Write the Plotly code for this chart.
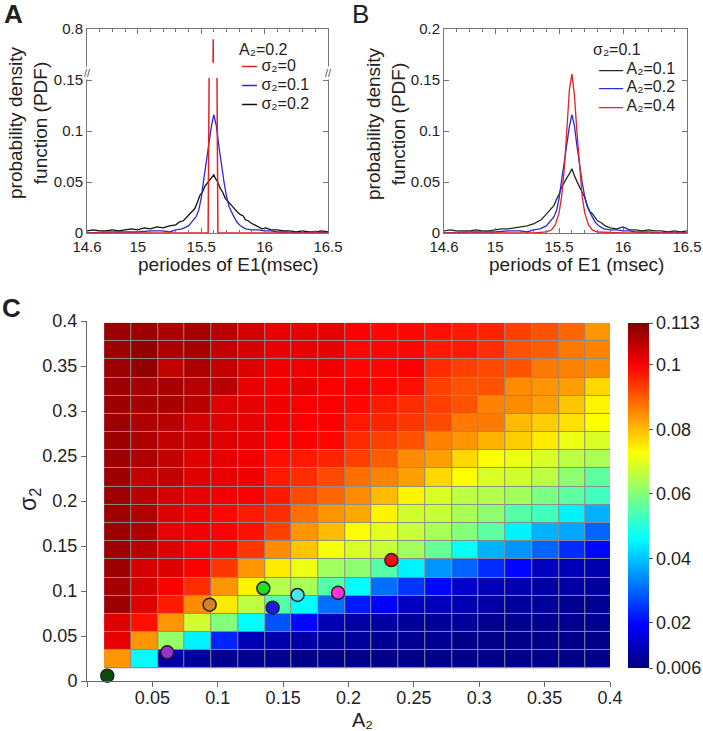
import plotly.graph_objects as go

FONT = "Arial, Liberation Sans, sans-serif"

# ---------------- Panel A data (A2 = 0.2) ----------------
# sigma2 = 0 : a single sharp peak (true height ~0.79, shown on a broken axis)
A_S0_X = [14.6, 15.555, 15.595, 15.632, 16.5]
A_S0_Y = [0.0, 0.0, 0.79, 0.0, 0.0]

# A2 = 0.2, sigma2 = 0.1 (same curve in panel A and panel B)
A02_S01_X = [14.6, 14.8, 15.0, 15.1, 15.2, 15.25, 15.3, 15.35, 15.4, 15.43, 15.46, 15.48,
             15.5, 15.52, 15.54, 15.56, 15.58, 15.6, 15.62, 15.64, 15.66, 15.68, 15.7,
             15.72, 15.75, 15.78, 15.81, 15.85, 15.9, 15.95, 16.0, 16.05, 16.1, 16.2,
             16.3, 16.4, 16.5]
A02_S01_Y = [0.0, 0.001, 0.001, 0.002, 0.002, 0.001, 0.003, 0.004, 0.007, 0.011, 0.016, 0.022,
             0.034, 0.052, 0.070, 0.088, 0.104, 0.116, 0.105, 0.085, 0.065, 0.050, 0.036,
             0.026, 0.018, 0.011, 0.007, 0.004, 0.003, 0.003, 0.002, 0.002, 0.001, 0.001,
             0.0, 0.001, 0.0]

# A2 = 0.2, sigma2 = 0.2
A_S02_X = [14.6, 14.65, 14.7, 14.75, 14.8, 14.85, 14.9, 14.95, 15.0, 15.05, 15.1, 15.15,
           15.2, 15.25, 15.3, 15.33, 15.36, 15.39, 15.42, 15.45, 15.47, 15.49, 15.51, 15.53,
           15.55, 15.57, 15.59, 15.6, 15.61, 15.63, 15.65, 15.67, 15.69, 15.71, 15.73, 15.75,
           15.77, 15.79, 15.81, 15.83, 15.85, 15.87, 15.89, 15.92, 15.95, 15.98, 16.01, 16.05,
           16.1, 16.15, 16.2, 16.25, 16.3, 16.35, 16.4, 16.45, 16.5]
A_S02_Y = [0.002, 0.003, 0.002, 0.002, 0.003, 0.002, 0.003, 0.004, 0.003, 0.005, 0.004, 0.006,
           0.005, 0.007, 0.008, 0.011, 0.012, 0.016, 0.019, 0.024, 0.030, 0.037, 0.040, 0.046,
           0.049, 0.052, 0.055, 0.057, 0.054, 0.050, 0.044, 0.040, 0.034, 0.031, 0.028, 0.026,
           0.022, 0.020, 0.018, 0.017, 0.013, 0.012, 0.010, 0.008, 0.006, 0.004, 0.005, 0.003,
           0.003, 0.002, 0.002, 0.001, 0.002, 0.001, 0.001, 0.002, 0.001]

# ---------------- Panel B data (sigma2 = 0.1) ----------------
B_A01_X = [14.6, 14.65, 14.7, 14.75, 14.8, 14.85, 14.9, 14.95, 15.0, 15.05, 15.1, 15.15,
           15.2, 15.25, 15.3, 15.33, 15.36, 15.39, 15.42, 15.44, 15.46, 15.48, 15.5, 15.52,
           15.54, 15.56, 15.58, 15.6, 15.62, 15.64, 15.66, 15.68, 15.7, 15.72, 15.74, 15.76,
           15.78, 15.8, 15.83, 15.86, 15.9, 15.95, 16.0, 16.05, 16.1, 16.15, 16.2, 16.25,
           16.3, 16.35, 16.4, 16.45, 16.5]
B_A01_Y = [0.002, 0.003, 0.002, 0.002, 0.002, 0.003, 0.002, 0.002, 0.003, 0.004, 0.004, 0.005,
           0.006, 0.007, 0.009, 0.011, 0.013, 0.017, 0.021, 0.024, 0.027, 0.033, 0.038, 0.045,
           0.050, 0.054, 0.058, 0.063, 0.056, 0.050, 0.045, 0.040, 0.035, 0.027, 0.021, 0.019,
           0.015, 0.012, 0.010, 0.007, 0.005, 0.004, 0.006, 0.003, 0.003, 0.002, 0.003, 0.002,
           0.002, 0.001, 0.002, 0.001, 0.002]

B_A04_X = [14.6, 15.0, 15.3, 15.4, 15.44, 15.47, 15.5, 15.52, 15.54, 15.56, 15.58, 15.6,
           15.62, 15.64, 15.66, 15.68, 15.7, 15.73, 15.76, 15.8, 16.0, 16.5]
B_A04_Y = [0.0, 0.0, 0.0, 0.001, 0.003, 0.008, 0.020, 0.036, 0.062, 0.100, 0.140, 0.156,
           0.135, 0.098, 0.062, 0.036, 0.020, 0.008, 0.003, 0.001, 0.0, 0.0]

# ---------------- Panel C data ----------------
A2_CENTERS = [0.0234, 0.0439, 0.0643, 0.0848, 0.1052, 0.1257, 0.1461, 0.1666, 0.1870, 0.2075,
              0.2279, 0.2484, 0.2688, 0.2893, 0.3097, 0.3302, 0.3506, 0.3711, 0.3915]
# listed top (large sigma2) to bottom
SIGMA2_CENTERS = [0.3878, 0.3676, 0.3474, 0.3272, 0.3070, 0.2868, 0.2666, 0.2464, 0.2262, 0.2060,
                  0.1858, 0.1656, 0.1454, 0.1252, 0.1050, 0.0848, 0.0646, 0.0444, 0.0242]
PEAK_PDF = [
    [0.110, 0.110, 0.108, 0.109, 0.107, 0.104, 0.102, 0.102, 0.102, 0.100, 0.099, 0.099, 0.098, 0.097, 0.096, 0.093, 0.091, 0.089, 0.084],
    [0.110, 0.111, 0.108, 0.109, 0.106, 0.104, 0.102, 0.102, 0.102, 0.099, 0.099, 0.099, 0.097, 0.097, 0.095, 0.091, 0.090, 0.087, 0.086],
    [0.110, 0.111, 0.106, 0.108, 0.106, 0.103, 0.101, 0.101, 0.101, 0.099, 0.099, 0.100, 0.095, 0.093, 0.092, 0.091, 0.087, 0.086, 0.085],
    [0.110, 0.109, 0.109, 0.107, 0.107, 0.102, 0.101, 0.102, 0.100, 0.100, 0.099, 0.098, 0.093, 0.091, 0.091, 0.085, 0.084, 0.083, 0.077],
    [0.110, 0.109, 0.109, 0.107, 0.103, 0.102, 0.101, 0.100, 0.100, 0.099, 0.097, 0.095, 0.093, 0.091, 0.086, 0.085, 0.083, 0.079, 0.074],
    [0.110, 0.108, 0.107, 0.104, 0.103, 0.102, 0.101, 0.100, 0.100, 0.097, 0.096, 0.094, 0.092, 0.087, 0.087, 0.080, 0.078, 0.076, 0.073],
    [0.110, 0.108, 0.106, 0.105, 0.103, 0.102, 0.100, 0.100, 0.099, 0.095, 0.093, 0.091, 0.086, 0.084, 0.081, 0.078, 0.075, 0.071, 0.069],
    [0.110, 0.108, 0.106, 0.103, 0.102, 0.101, 0.098, 0.097, 0.096, 0.093, 0.090, 0.085, 0.083, 0.077, 0.073, 0.071, 0.069, 0.066, 0.064],
    [0.110, 0.106, 0.106, 0.103, 0.102, 0.101, 0.097, 0.095, 0.092, 0.088, 0.086, 0.083, 0.077, 0.073, 0.069, 0.068, 0.066, 0.061, 0.056],
    [0.110, 0.107, 0.104, 0.102, 0.101, 0.100, 0.097, 0.092, 0.089, 0.085, 0.080, 0.074, 0.069, 0.066, 0.065, 0.063, 0.059, 0.056, 0.053],
    [0.110, 0.108, 0.103, 0.101, 0.099, 0.097, 0.095, 0.088, 0.084, 0.082, 0.074, 0.068, 0.067, 0.064, 0.061, 0.055, 0.053, 0.045, 0.038],
    [0.110, 0.108, 0.102, 0.101, 0.100, 0.098, 0.093, 0.084, 0.080, 0.073, 0.070, 0.067, 0.064, 0.060, 0.056, 0.045, 0.038, 0.037, 0.030],
    [0.110, 0.107, 0.103, 0.100, 0.099, 0.094, 0.085, 0.079, 0.072, 0.069, 0.067, 0.063, 0.057, 0.047, 0.038, 0.035, 0.030, 0.024, 0.020],
    [0.110, 0.104, 0.103, 0.100, 0.094, 0.084, 0.075, 0.071, 0.063, 0.061, 0.055, 0.045, 0.035, 0.030, 0.024, 0.020, 0.013, 0.012, 0.011],
    [0.109, 0.104, 0.100, 0.095, 0.084, 0.074, 0.065, 0.064, 0.055, 0.046, 0.031, 0.025, 0.020, 0.014, 0.012, 0.011, 0.010, 0.010, 0.009],
    [0.110, 0.103, 0.097, 0.085, 0.075, 0.066, 0.055, 0.046, 0.031, 0.022, 0.019, 0.013, 0.012, 0.011, 0.010, 0.009, 0.009, 0.008, 0.008],
    [0.103, 0.098, 0.084, 0.068, 0.060, 0.046, 0.028, 0.020, 0.012, 0.010, 0.010, 0.009, 0.009, 0.009, 0.008, 0.008, 0.008, 0.008, 0.008],
    [0.102, 0.084, 0.062, 0.045, 0.023, 0.012, 0.011, 0.010, 0.009, 0.009, 0.008, 0.008, 0.008, 0.007, 0.007, 0.007, 0.007, 0.007, 0.007],
    [0.084, 0.046, 0.010, 0.009, 0.008, 0.008, 0.008, 0.007, 0.007, 0.007, 0.007, 0.007, 0.007, 0.007, 0.007, 0.007, 0.007, 0.007, 0.007],
]
MARKER_A2 = [0.0155, 0.0614, 0.0938, 0.1349, 0.1420, 0.1610, 0.1920, 0.2328]
MARKER_S2 = [0.0059, 0.0319, 0.0848, 0.1030, 0.0815, 0.0956, 0.0980, 0.1344]
MARKER_COLORS = ["#0b4d0b", "#9a32cd", "#d2822a", "#22dd22", "#1a1ae6", "#45e6f0", "#ff33dd", "#ee1111"]

CB_TICKS = [0.006, 0.02, 0.04, 0.06, 0.08, 0.1, 0.113]
CB_TEXT = ["0.006", "0.02", "0.04", "0.06", "0.08", "0.1", "0.113"]

# MATLAB jet
JET = [[0.0, "rgb(0,0,128)"], [0.125, "rgb(0,0,255)"], [0.375, "rgb(0,255,255)"],
       [0.625, "rgb(255,255,0)"], [0.875, "rgb(255,0,0)"], [1.0, "rgb(128,0,0)"]]

# ---------- broken y-axis of panel A ----------
BREAK_LO = 0.152   # lower section shows 0 .. 0.152 directly
BREAK_HI = 0.767   # upper section shows 0.767 .. 0.8 shifted down
SHIFT = 0.6


def broken(xs, ys):
    """Split a polyline at the axis break; return a list of (x, y) pieces in display units."""
    pieces = []
    cur_x, cur_y = [], []
    for i in range(len(xs) - 1):
        x0, y0, x1, y1 = xs[i], ys[i], xs[i + 1], ys[i + 1]
        ts = [0.0, 1.0]
        for b in (BREAK_LO, BREAK_HI):
            if (y0 - b) * (y1 - b) < 0:
                ts.append((b - y0) / (y1 - y0))
        ts.sort()
        for a, c in zip(ts[:-1], ts[1:]):
            ym = y0 + (y1 - y0) * (a + c) / 2
            if BREAK_LO < ym < BREAK_HI:
                if cur_x:
                    pieces.append((cur_x, cur_y))
                cur_x, cur_y = [], []
                continue
            off = 0.0 if ym <= BREAK_LO else SHIFT   # zone decided by the sub-segment
            if not cur_x:
                cur_x.append(x0 + (x1 - x0) * a)
                cur_y.append(y0 + (y1 - y0) * a - off)
            cur_x.append(x0 + (x1 - x0) * c)
            cur_y.append(y0 + (y1 - y0) * c - off)
    if cur_x:
        pieces.append((cur_x, cur_y))
    return pieces


W, H = 703, 731


def px(v):
    return v / W


def py(v):
    return 1 - v / H


fig = go.Figure()

BLACK = "#111111"
BLUE = "#2a2ad6"
RED = "#e32222"
DKGREEN = "#1e2e1e"

# Panel A
fig.add_trace(go.Scatter(x=A_S02_X, y=A_S02_Y, mode="lines", line=dict(color=BLACK, width=1.3),
                         name="σ2=0.2", xaxis="x", yaxis="y"))
fig.add_trace(go.Scatter(x=A02_S01_X, y=A02_S01_Y, mode="lines", line=dict(color=BLUE, width=1.3),
                         name="σ2=0.1", xaxis="x", yaxis="y"))
for rx, ry in broken(A_S0_X, A_S0_Y):
    fig.add_trace(go.Scatter(x=rx, y=ry, mode="lines",
                             line=dict(color=RED, width=1.5, simplify=False),
                             name="σ2=0", xaxis="x", yaxis="y"))

# Panel B
fig.add_trace(go.Scatter(x=B_A01_X, y=B_A01_Y, mode="lines", line=dict(color=DKGREEN, width=1.3),
                         name="A2=0.1", xaxis="x2", yaxis="y2"))
fig.add_trace(go.Scatter(x=A02_S01_X, y=A02_S01_Y, mode="lines", line=dict(color=BLUE, width=1.3),
                         name="A2=0.2", xaxis="x2", yaxis="y2"))
fig.add_trace(go.Scatter(x=B_A04_X, y=B_A04_Y, mode="lines", line=dict(color=RED, width=1.3),
                         name="A2=0.4", xaxis="x2", yaxis="y2"))

# Panel C heatmap
fig.add_trace(go.Heatmap(
    x=A2_CENTERS, y=SIGMA2_CENTERS[::-1], z=PEAK_PDF[::-1],
    colorscale=JET, zmin=0.006, zmax=0.113, xgap=1, ygap=1,
    hoverinfo="skip", xaxis="x3", yaxis="y3",
    colorbar=dict(x=px(628), xanchor="left", xpad=0, y=py(495.5), yanchor="middle", ypad=0,
                  len=(668 - 323) / H, lenmode="fraction", thickness=21, thicknessmode="pixels",
                  outlinewidth=0, tickvals=CB_TICKS, ticktext=CB_TEXT, ticks="outside",
                  ticklen=4, tickcolor="#555", tickfont=dict(size=18, color="#222", family=FONT)),
))
fig.add_trace(go.Scatter(x=MARKER_A2, y=MARKER_S2, mode="markers",
                         marker=dict(size=13, color=MARKER_COLORS, line=dict(color="#222", width=1.5)),
                         cliponaxis=False, hoverinfo="skip", xaxis="x3", yaxis="y3"))

half_x = (A2_CENTERS[1] - A2_CENTERS[0]) / 2
half_y = (SIGMA2_CENTERS[0] - SIGMA2_CENTERS[1]) / 2
fig.add_shape(type="rect", xref="x3", yref="y3",
              x0=A2_CENTERS[0] - half_x, x1=A2_CENTERS[-1] + half_x,
              y0=SIGMA2_CENTERS[-1] - half_y, y1=SIGMA2_CENTERS[0] + half_y,
              fillcolor="#8c8c8c", line=dict(width=0), layer="below")

AXC = "#777"
tickfont_ab = dict(size=15, color="#222", family=FONT)
common_ab_x = dict(range=[14.6, 16.5], tickvals=[14.6, 15, 15.5, 16, 16.5],
                   ticktext=["14.6", "15", "15.5", "16", "16.5"], ticks="inside", ticklen=5,
                   tickcolor=AXC, showline=True, linecolor=AXC, linewidth=1, mirror="ticks",
                   showgrid=False, zeroline=False, tickfont=tickfont_ab, automargin=False,
                   minor=dict(ticks="inside", ticklen=3, dtick=0.1, tick0=14.6, tickcolor=AXC,
                              showgrid=False))
common_ab_y = dict(range=[0, 0.2], tickvals=[0, 0.05, 0.1, 0.15, 0.2], ticks="inside", ticklen=5,
                   tickcolor=AXC, showline=True, linecolor=AXC, linewidth=1, mirror="ticks",
                   showgrid=False, zeroline=False, tickfont=tickfont_ab, automargin=False)
tickfont_c = dict(size=18, color="#222", family=FONT)

fig.update_layout(
    width=W, height=H, margin=dict(l=0, r=0, t=0, b=0, autoexpand=False),
    paper_bgcolor="white", plot_bgcolor="white", showlegend=False,
    font=dict(family=FONT, color="#222"),
    xaxis=dict(domain=[px(87), px(328)], anchor="y", **common_ab_x),
    yaxis=dict(domain=[py(233), py(29)], anchor="x",
               ticktext=["0", "0.05", "0.1", "0.15", "0.8"], **common_ab_y),
    xaxis2=dict(domain=[px(444), px(687)], anchor="y2", **common_ab_x),
    yaxis2=dict(domain=[py(233), py(29)], anchor="x2",
                ticktext=["0", "0.05", "0.1", "0.15", "0.2"], **common_ab_y),
    xaxis3=dict(domain=[px(87), px(610)], anchor="y3", range=[0, 0.4],
                tickvals=[0, 0.05, 0.1, 0.15, 0.2, 0.25, 0.3, 0.35, 0.4],
                ticktext=["", "0.05", "0.1", "0.15", "0.2", "0.25", "0.3", "0.35", "0.4"],
                ticks="outside", ticklen=5, tickcolor="#666", showline=True, linecolor="#666",
                showgrid=False, zeroline=False, tickfont=tickfont_c, automargin=False,
                ticklabelstandoff=-5),
    yaxis3=dict(domain=[py(681), py(321)], anchor="x3", range=[0, 0.4],
                tickvals=[0, 0.05, 0.1, 0.15, 0.2, 0.25, 0.3, 0.35, 0.4],
                ticktext=["0", "0.05", "0.1", "0.15", "0.2", "0.25", "0.3", "0.35", "0.4"],
                ticks="outside", ticklen=5, tickcolor="#666", showline=True, linecolor="#666",
                showgrid=False, zeroline=False, tickfont=tickfont_c, automargin=False),
)

ann = []


def label(text, x, y, size, **kw):
    d = dict(text=text, x=px(x), y=py(y), xref="paper", yref="paper", xanchor="left",
             yanchor="middle", showarrow=False, font=dict(size=size, color="#222", family=FONT))
    d.update(kw)
    ann.append(d)


# panel letters
label("<b>A</b>", 2, 14, 26)
label("B", 350, 14, 26)
label("<b>C</b>", 0, 308, 26)


# legends (dash glyphs in the series colour + label)
def dash(color, size, n=1):
    return f'<span style="color:{color};font-size:{size}px"><b>{"—" * n}</b></span>'


label("A₂=0.2", 237, 49, 16)
label(dash(RED, 15) + " σ₂=0", 240, 66, 16)
label(dash(BLUE, 15) + " σ₂=0.1", 240, 84.5, 16)
label(dash(BLACK, 15) + " σ₂=0.2", 240, 103, 16)

label("σ₂=0.1", 591, 50, 16)
label(dash(DKGREEN, 12, 2) + " A₂=0.1", 597, 68.5, 16)
label(dash(BLUE, 12, 2) + " A₂=0.2", 597, 87, 16)
label(dash(RED, 12, 2) + " A₂=0.4", 597, 105.5, 16)

# axis titles
for cx, txt in [(228, "periodes of E1(msec)"), (576, "periods of E1 (msec)")]:
    label(txt, cx, 265, 19, xanchor="center")
for cx in (28, 386):
    label("probability density<br>function (PDF)", cx, 123, 19, xanchor="center", textangle=-90)
label("σ<sub>2</sub>", 29, 500, 23, xanchor="center", textangle=-90)
label("A₂", 362, 719.5, 20, xanchor="center")

# axis break marks
for xd in (0, 1):
    ann.append(dict(text="//", x=xd, y=0.157, xref="x domain", yref="y", xanchor="center",
                    yanchor="middle", showarrow=False, bgcolor="white", borderpad=0,
                    font=dict(size=11, color="#555", family=FONT)))
fig.update_layout(annotations=ann)

fig.write_html("out.html", config={"displayModeBar": False})
